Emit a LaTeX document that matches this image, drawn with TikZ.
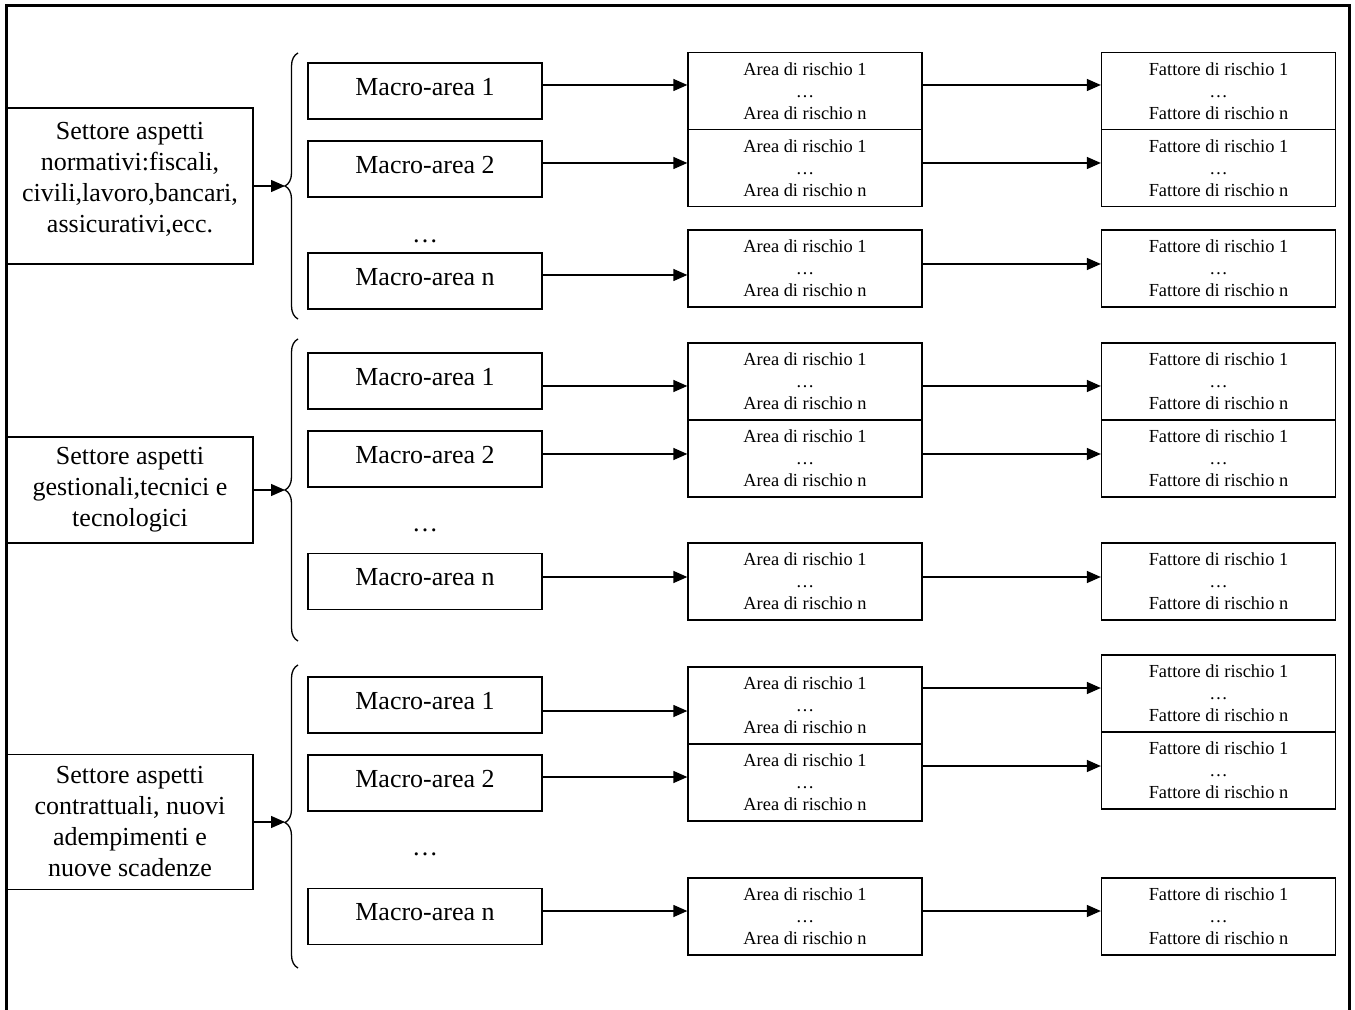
\documentclass[tikz,border=0pt]{standalone}
\usepackage{fontspec}
\setmainfont{Liberation Serif}
\usetikzlibrary{arrows.meta,decorations.pathreplacing}

\begin{document}
\begin{tikzpicture}[x=0.5pt, y=-0.5pt, line width=0.65pt,
  sector/.style = {draw, minimum width=123pt, align=center, inner sep=0pt, font=\fontsize{13}{15.5}\selectfont},
  macro/.style = {draw, minimum width=117pt, minimum height=28pt, inner sep=0pt, text depth=4.5pt, font=\fontsize{13}{15.5}\selectfont},
  risk/.style = {draw, minimum width=117pt, minimum height=38.5pt, align=center, inner sep=0pt, font=\fontsize{9.2}{11}\selectfont},
  etc/.style = {inner sep=0pt, font=\fontsize{13}{15.5}\selectfont},
  link/.style = {-{Triangle[length=7pt,width=6pt]}},
  curly/.style = {decorate, decoration={brace, amplitude=6.5pt}}]
\useasboundingbox (0,0) rectangle (1355,1010);
\draw[line width=1.5pt] (6,1012) -- (6,6) -- (1349,6) -- (1349,1012);

% normativi
\node[sector, minimum height=78pt, text depth=9pt] (s1) at (130,186) {Settore aspetti\\normativi:fiscali,\\civili,lavoro,bancari,\\assicurativi,ecc.};
\coordinate (b1) at (285,186);
\draw[curly] (298,319) -- (298,53);
\draw[link] (s1) -- (b1);

\node[macro] (m11) at (425,91) {Macro-area 1};
\node[macro] (m12) at (425,169) {Macro-area 2};
\node[etc] (d1) at (425,241) {…};
\node[macro] (m1n) at (425,281) {Macro-area n};

\node[risk] (a11) at (805,91) {Area di rischio 1\\…\\Area di rischio n};
\node[risk] (a12) at (805,168) {Area di rischio 1\\…\\Area di rischio n};
\node[risk] (a1n) at (805,268.5) {Area di rischio 1\\…\\Area di rischio n};

\node[risk] (f11) at (1218.5,91) {Fattore di rischio 1\\…\\Fattore di rischio n};
\node[risk] (f12) at (1218.5,168) {Fattore di rischio 1\\…\\Fattore di rischio n};
\node[risk] (f1n) at (1218.5,268.5) {Fattore di rischio 1\\…\\Fattore di rischio n};

\draw[link] (m11.east |- 0,85) -- (a11.west |- 0,85);
\draw[link] (m12.east |- 0,163) -- (a12.west |- 0,163);
\draw[link] (m1n.east |- 0,275) -- (a1n.west |- 0,275);
\draw[link] (a11.east |- 0,85) -- (f11.west |- 0,85);
\draw[link] (a12.east |- 0,163) -- (f12.west |- 0,163);
\draw[link] (a1n.east |- 0,264) -- (f1n.west |- 0,264);

% gestionali
\node[sector, minimum height=53pt] (s2) at (130,490) {Settore aspetti\\gestionali,tecnici e\\tecnologici};
\coordinate (b2) at (285,490);
\draw[curly] (298,641) -- (298,339);
\draw[link] (s2) -- (b2);

\node[macro] (m21) at (425,381) {Macro-area 1};
\node[macro] (m22) at (425,459) {Macro-area 2};
\node[etc] (d2) at (425,530) {…};
\node[macro] (m2n) at (425,581.5) {Macro-area n};

\node[risk] (a21) at (805,381.5) {Area di rischio 1\\…\\Area di rischio n};
\node[risk] (a22) at (805,458.5) {Area di rischio 1\\…\\Area di rischio n};
\node[risk] (a2n) at (805,581.5) {Area di rischio 1\\…\\Area di rischio n};

\node[risk] (f21) at (1218.5,381.5) {Fattore di rischio 1\\…\\Fattore di rischio n};
\node[risk] (f22) at (1218.5,458.5) {Fattore di rischio 1\\…\\Fattore di rischio n};
\node[risk] (f2n) at (1218.5,581.5) {Fattore di rischio 1\\…\\Fattore di rischio n};

\draw[link] (m21.east |- 0,386) -- (a21.west |- 0,386);
\draw[link] (m22.east |- 0,454) -- (a22.west |- 0,454);
\draw[link] (m2n.east |- 0,577) -- (a2n.west |- 0,577);
\draw[link] (a21.east |- 0,386) -- (f21.west |- 0,386);
\draw[link] (a22.east |- 0,454) -- (f22.west |- 0,454);
\draw[link] (a2n.east |- 0,577) -- (f2n.west |- 0,577);

% contrattuali
\node[sector, minimum height=67.5pt] (s3) at (130,822) {Settore aspetti\\contrattuali, nuovi\\adempimenti e\\nuove scadenze};
\coordinate (b3) at (285,822);
\draw[curly, decoration={aspect=0.48}] (298,968) -- (298,665);
\draw[link] (s3) -- (b3);

\node[macro] (m31) at (425,705) {Macro-area 1};
\node[macro] (m32) at (425,783) {Macro-area 2};
\node[etc] (d3) at (425,854) {…};
\node[macro] (m3n) at (425,916.5) {Macro-area n};

\node[risk] (a31) at (805,705.5) {Area di rischio 1\\…\\Area di rischio n};
\node[risk] (a32) at (805,782.5) {Area di rischio 1\\…\\Area di rischio n};
\node[risk] (a3n) at (805,916.5) {Area di rischio 1\\…\\Area di rischio n};

\node[risk] (f31) at (1218.5,693.5) {Fattore di rischio 1\\…\\Fattore di rischio n};
\node[risk] (f32) at (1218.5,770.5) {Fattore di rischio 1\\…\\Fattore di rischio n};
\node[risk] (f3n) at (1218.5,916.5) {Fattore di rischio 1\\…\\Fattore di rischio n};

\draw[link] (m31.east |- 0,711) -- (a31.west |- 0,711);
\draw[link] (m32.east |- 0,777) -- (a32.west |- 0,777);
\draw[link] (m3n.east |- 0,911) -- (a3n.west |- 0,911);
\draw[link] (a31.east |- 0,688) -- (f31.west |- 0,688);
\draw[link] (a32.east |- 0,766) -- (f32.west |- 0,766);
\draw[link] (a3n.east |- 0,911) -- (f3n.west |- 0,911);

\end{tikzpicture}
\end{document}
